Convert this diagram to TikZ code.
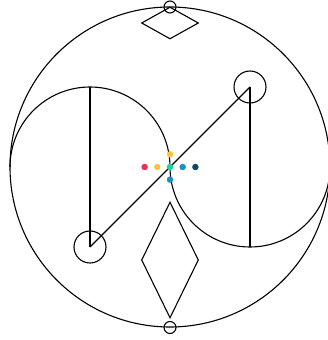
\documentclass[tikz,border=0pt]{standalone}
\usepackage{xcolor}
\usepackage{tikz}
\usetikzlibrary{shapes,arrows.meta,positioning,calc}
\definecolor{dotred}{HTML}{EF2D56}
\definecolor{dotyellow}{HTML}{FFC23E}
\definecolor{dotgreen}{HTML}{16D89C}
\definecolor{dotblue}{HTML}{1C8FC4}
\definecolor{dotnavy}{HTML}{0D4A63}
\tikzstyle{ring} = [circle, draw=black, inner sep=0pt, line width=1.1pt]
\tikzstyle{gem} = [diamond, draw=black, inner sep=0pt, minimum width=57pt, line width=1.1pt]
\tikzstyle{dot} = [circle, inner sep=0pt, minimum size=6.5pt]
\tikzstyle{stroke} = [line width=1.1pt, black]

\begin{document}
\begin{tikzpicture}[x=1pt, y=1pt]
                \useasboundingbox (0,0) rectangle (327,340);
                % outer circle and the two half arcs
                \draw[stroke] (170,173) circle (160);
                \draw[stroke] (170,173) arc[start angle=0, end angle=180, radius=80];
                \draw[stroke] (170,173) arc[start angle=180, end angle=360, radius=80];
                
                \coordinate (ltop) at (90,253);
                \coordinate (rbot) at (250,93);
                \node[ring, minimum size=32pt] (lring) at (90,93) {};
                \node[ring, minimum size=32pt] (rring) at (250,253) {};
                \node[ring, minimum size=12pt] (topring) at (170,333) {};
                \node[ring, minimum size=12pt] (botring) at (170,12.5) {};
                
                \node[gem, minimum height=32pt] (topgem) at (170,317) {};
                \node[gem, minimum height=116pt] (botgem) at (170,80) {};
                
                \draw[stroke] (lring.center) -- (ltop);
                \draw[stroke] (rring.center) -- (rbot);
                \draw[stroke] (lring.center) -- (rring.center);
                
                % colour dots
                \node[dot, fill=dotred] (d1) at (144.6,173) {};
                \node[dot, fill=dotyellow] (d2) at (157.3,173) {};
                \node[dot, fill=dotgreen] (d3) at (170,173) {};
                \node[dot, fill=dotblue] (d4) at (182.7,173) {};
                \node[dot, fill=dotnavy] (d5) at (195.4,173) {};
                \node[dot, fill=dotyellow] (d6) at (170,185.7) {};
                \node[dot, fill=dotblue] (d7) at (170,160.3) {};
            \end{tikzpicture}
\end{document}
